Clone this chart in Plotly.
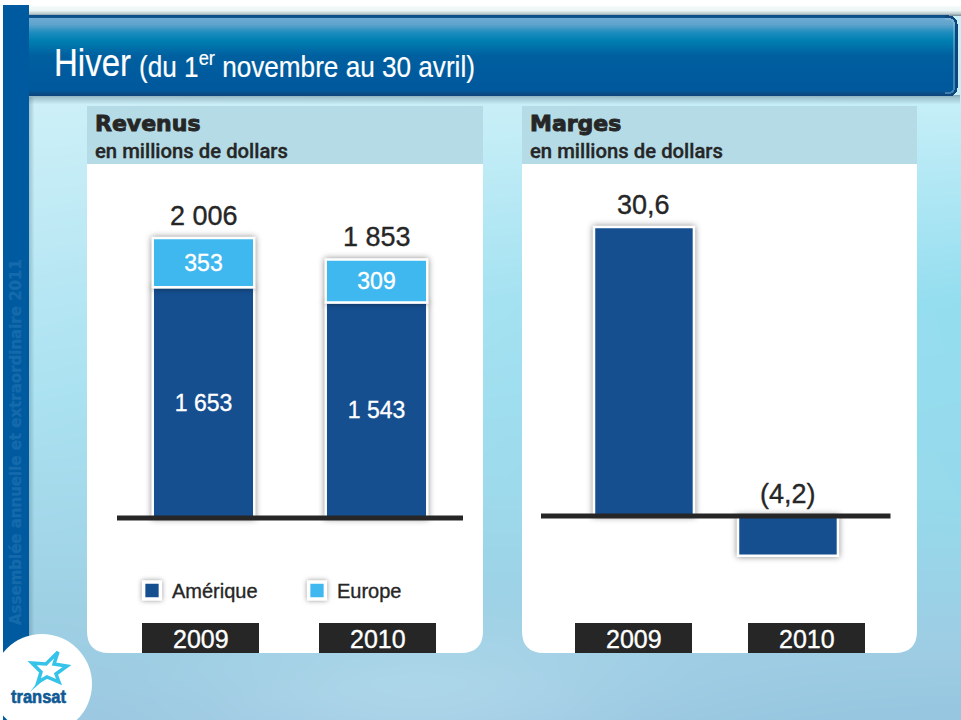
import base64, zlib, struct
import numpy as np
import plotly.graph_objects as go

# ---------- data ----------
YEARS = ["2009", "2010"]
AMERIQUE = [1653, 1543]
EUROPE = [353, 309]
TOTALS = [2006, 1853]
MARGES = [30.6, -4.2]
MARGES_LABELS = ["30,6", "(4,2)"]

W, H = 961, 720
DARK = "#262626"
BLUE = "#154f90"
SKY = "#3fb8ef"
BODY = "Liberation Sans"


def sp(n):
    return f"{n:,}".replace(",", " ")


def fx(px):
    return px / W


def fy(px):
    return 1 - px / H


def lerp_rows(stops):
    ys = [s[0] for s in stops]
    return np.stack([np.interp(np.arange(H), ys, [s[1][i] for s in stops]) for i in range(3)], axis=1)


def background():
    left = lerp_rows([(0, (210, 240, 248)), (110, (205, 240, 248)), (400, (172, 226, 241)), (650, (156, 205, 226)), (720, (155, 200, 225))])
    right = lerp_rows([(0, (205, 240, 248)), (110, (196, 238, 248)), (300, (148, 222, 240)), (500, (150, 218, 236)), (650, (158, 205, 228)), (720, (150, 198, 224))])
    t = (np.arange(W) / (W - 1))[None, :, None]
    img = left[:, None, :] * (1 - t) + right[:, None, :] * t
    yy, xx = np.mgrid[0:H, 0:W]
    glow = np.exp(-(((xx - 420) / 220.0) ** 2 + ((yy - 700) / 70.0) ** 2))[..., None]
    img = img + glow * np.array([18, 12, 8])
    # header fade above and shadow below
    fade = lerp_rows([(0, (255, 255, 255)), (5, (255, 255, 255)), (6, (245, 250, 250)), (10, (235, 245, 245)), (13, (190, 205, 210)), (15, (130, 150, 160))])
    a_top = np.interp(np.arange(H), [0, 15, 16], [1, 1, 0])[:, None, None]
    img = img * (1 - a_top) + fade[:, None, :] * a_top
    shadow = np.interp(np.arange(H), [94, 95, 97, 104], [0, 0.45, 0.3, 0])[:, None, None]
    shadow = shadow * (xx[..., None] >= 29) * (xx[..., None] < 960)
    img = img * (1 - shadow) + np.array([60, 90, 110]) * shadow
    # header bar with rounded right end
    head = lerp_rows([(15, (12, 78, 135)), (17, (14, 85, 145)), (18, (110, 170, 210)), (24, (95, 165, 205)), (32, (30, 140, 190)), (40, (0, 128, 178)), (55, (0, 96, 160)), (90, (0, 88, 157)), (92, (10, 80, 140)), (95, (12, 70, 125))])
    r = 9.0
    x0, x1, y0, y1 = 29, 957, 15, 96
    cx = np.clip(xx, x0, x1 - r)
    cy = np.clip(yy, y0 + r, y1 - r)
    d = np.hypot(xx - cx, yy - cy)
    mask = ((d <= r) & (xx >= x0) & (yy >= y0) & (yy < y1))[..., None]
    img = np.where(mask, head[:, None, :], img)
    edge = (xx > x1 - r - 4)[..., None]
    glow_line = ((d > r - 4.5) & (d <= r - 2.5))[..., None] & edge & mask
    img = np.where(glow_line, img * 0.6 + np.array([150, 200, 225]) * 0.4, img)
    rim = ((d > r - 2.5))[..., None] & edge & mask
    img = np.where(rim, np.array([12, 70, 125]), img)
    # side band with its shadow
    sh = np.interp(xx, [29, 34], [0.3, 0])[..., None] * (yy > 96)[..., None] * (xx >= 29)[..., None]
    img = img * (1 - sh) + np.array([70, 110, 130]) * sh
    band = ((xx >= 3) & (xx < 29) & (yy >= 5))[..., None]
    img = np.where(band, np.array([0, 90, 160]), img)
    img = np.where((xx < 3)[..., None], 255, img)
    return np.clip(img, 0, 255).astype(np.uint8)


def png_uri(a):
    h, w, _ = a.shape
    raw = b"".join(b"\x00" + a[i].tobytes() for i in range(h))

    def chunk(tag, data):
        return struct.pack(">I", len(data)) + tag + data + struct.pack(">I", zlib.crc32(tag + data) & 0xFFFFFFFF)

    data = b"\x89PNG\r\n\x1a\n" + chunk(b"IHDR", struct.pack(">IIBBBBB", w, h, 8, 2, 0, 0, 0)) + chunk(b"IDAT", zlib.compress(raw, 9)) + chunk(b"IEND", b"")
    return "data:image/png;base64," + base64.b64encode(data).decode()


def rounded_bottom(x0, y0, x1, y1, r):
    P = lambda x, y: f"{fx(x):.5f},{fy(y):.5f}"
    return (f"M{P(x0, y0)} L{P(x1, y0)} L{P(x1, y1 - r)} "
            f"Q{P(x1, y1)} {P(x1 - r, y1)} L{P(x0 + r, y1)} Q{P(x0, y1)} {P(x0, y1 - r)} Z")


def poly(points):
    return "M" + " L".join(f"{fx(x):.5f},{fy(y):.5f}" for x, y in points) + " Z"


def rect(x0, y0, x1, y1, color):
    return dict(type="rect", xref="paper", yref="paper", x0=fx(x0), x1=fx(x1), y0=fy(y1), y1=fy(y0),
                fillcolor=color, line_width=0, layer="below")


def note(x, y, text, size, color=DARK, family=BODY, anchor="left", weight=None, angle=0):
    f = dict(size=size, color=color, family=family)
    if weight:
        f["weight"] = weight
    return dict(xref="paper", yref="paper", x=fx(x), y=fy(y), text=text, showarrow=False, xanchor=anchor,
                yanchor="middle", font=f, textangle=angle)


def value_note(xref, yref, index, val, text):
    return dict(xref=xref, yref=yref, x=index, y=val, yshift=22, text=text, showarrow=False, xanchor="center",
                yanchor="middle", font=dict(size=27, color=DARK, family=BODY))


fig = go.Figure()

fig.add_bar(x=YEARS, y=AMERIQUE, name="Amérique", marker=dict(color=BLUE, line=dict(color="white", width=2.5)),
            text=[sp(v) for v in AMERIQUE], textposition="inside", insidetextanchor="middle",
            textfont=dict(color="white", size=23, family=BODY), xaxis="x", yaxis="y")
fig.add_bar(x=YEARS, y=EUROPE, name="Europe", marker=dict(color=SKY, line=dict(color="white", width=2.5)),
            text=[sp(v) for v in EUROPE], textposition="inside", insidetextanchor="middle",
            textfont=dict(color="white", size=23, family=BODY), xaxis="x", yaxis="y")
fig.add_bar(x=YEARS, y=MARGES, width=0.694, marker=dict(color=BLUE, line=dict(color="white", width=2.5)),
            showlegend=False, xaxis="x2", yaxis="y2")

shapes = [
    dict(type="path", path=rounded_bottom(87, 164, 483, 653, 22), xref="paper", yref="paper", fillcolor="white", line_width=0, layer="below"),
    dict(type="path", path=rounded_bottom(522, 164, 917, 653, 22), xref="paper", yref="paper", fillcolor="white", line_width=0, layer="below"),
    rect(87, 106, 483, 164, "#b5dce6"),
    rect(522, 106, 917, 164, "#b5dce6"),
    dict(type="circle", xref="paper", yref="paper", x0=fx(-8), x1=fx(92), y0=fy(734), y1=fy(634), fillcolor="white", line_width=0, layer="below"),
    rect(142, 623, 259, 653, DARK), rect(319, 623, 436, 653, DARK),
    rect(575, 623, 692, 653, DARK), rect(748, 623, 865, 653, DARK),
    dict(type="path", xref="paper", yref="paper", layer="below", fillcolor="#35c3ea", line_width=0,
         path=poly([(43, 675), (47, 677), (30, 692)])),
    dict(type="path", xref="paper", yref="paper", layer="below", fillcolor="#ffffff",
         line=dict(color="#35c3ea", width=3.5),
         path=poly([(32, 663), (46, 664), (58, 652), (54, 664), (67, 666), (56, 674), (59, 682), (47, 677), (38, 682), (41, 672)])),
    dict(type="line", xref="x domain", yref="y", x0=0, x1=1, y0=0, y1=0, line=dict(color=DARK, width=5), layer="above"),
    dict(type="line", xref="x2 domain", yref="y2", x0=0, x1=1, y0=0, y1=0, line=dict(color=DARK, width=5), layer="above"),
]

annotations = [
    note(52, 62, "Hiver", 39, "white", BODY),
    note(137, 65, "(du 1<sup>er</sup> novembre au 30 avril)", 29, "white", BODY),
    note(93, 123, "Revenus", 22, DARK, "DejaVu Sans", weight=700),
    note(528, 123, "Marges", 22, DARK, "DejaVu Sans", weight=700),
    note(93, 151, "en millions de dollars", 20.3, DARK, "Roboto", weight=500),
    note(528, 151, "en millions de dollars", 20.3, DARK, "Roboto", weight=500),
    note(16, 442, "Assemblée annuelle et extraordinaire 2011", 15, "#156aac", "DejaVu Sans", anchor="center", weight=700, angle=-90),
    note(41, 697, "transat", 18, "#0f5a94", BODY, anchor="center", weight=700),
]
for cx, yr in zip([200.5, 377.5, 633.5, 806.5], YEARS * 2):
    annotations.append(note(cx, 638.5, yr, 25, "white", BODY, anchor="center"))
# category axes read numeric annotation positions as category indices
for i, total in enumerate(TOTALS):
    annotations.append(value_note("x", "y", i, total, sp(total)))
for i, (val, lab) in enumerate(zip(MARGES, MARGES_LABELS)):
    annotations.append(value_note("x2", "y2", i, max(val, 0), lab))

hidden = dict(visible=False, fixedrange=True)
fig.update_layout(
    width=W, height=H, margin=dict(l=0, r=0, t=0, b=0, pad=0), autosize=False,
    paper_bgcolor="white", plot_bgcolor="rgba(0,0,0,0)", barmode="relative", bargap=0.413,
    font=dict(family=BODY, color=DARK),
    images=[dict(source=png_uri(background()), xref="paper", yref="paper", x=0, y=1, sizex=1, sizey=1,
                 xanchor="left", yanchor="top", sizing="stretch", layer="below")],
    shapes=shapes, annotations=annotations,
    xaxis=dict(domain=[fx(117), fx(463)], range=[-0.5, 1.5], type="category", anchor="y", **hidden),
    yaxis=dict(domain=[fy(610), fy(170)], range=[-659, 2493], anchor="x", **hidden),
    xaxis2=dict(domain=[fx(541), fx(890.5)], range=[-0.715, 1.712], type="category", anchor="y2", **hidden),
    yaxis2=dict(domain=[fy(610), fy(170)], range=[-9.96, 36.65], anchor="x2", **hidden),
    legend=dict(orientation="h", x=fx(132), y=fy(571), xanchor="left", yanchor="top", traceorder="normal",
                font=dict(size=20, color=DARK, family=BODY), entrywidth=120, entrywidthmode="pixels",
                bgcolor="rgba(0,0,0,0)", itemclick=False, itemdoubleclick=False),
)

css = """
var s=document.createElement('style');
s.textContent='body{margin:0;overflow:hidden}'
+'.barlayer .point path{filter:drop-shadow(0 0 3px rgba(0,0,0,.45))}'
+'.legend .legendpoints path{transform:translate(20px,0) scale(1.4);stroke:#fff;filter:drop-shadow(0 0 2px rgba(0,0,0,.4))}';
document.head.appendChild(s);
var targets={'Hiver':77,'(du':336,'transat':55};
var heft={'Revenus':0.9,'Marges':0.9,'transat':0.6,'Hiver':0.2,'(du':0.2};
document.querySelectorAll('.main-svg text').forEach(function(t){
  var raw=t.textContent.trim(), key=raw.split(' ')[0];
  var fill=t.style.fill||'#262626';
  t.style.stroke=fill; t.style.strokeWidth=(heft[key]!==undefined?heft[key]:0.35)+'px';
  if(targets[key]){
    var w=t.getBBox().width;
    t.style.transformBox='fill-box'; t.style.transformOrigin='left center';
    t.style.transform='scaleX('+(targets[key]/w)+')';
  }
});
"""
fig.write_html("out.html", post_script=css, config=dict(displayModeBar=False))
